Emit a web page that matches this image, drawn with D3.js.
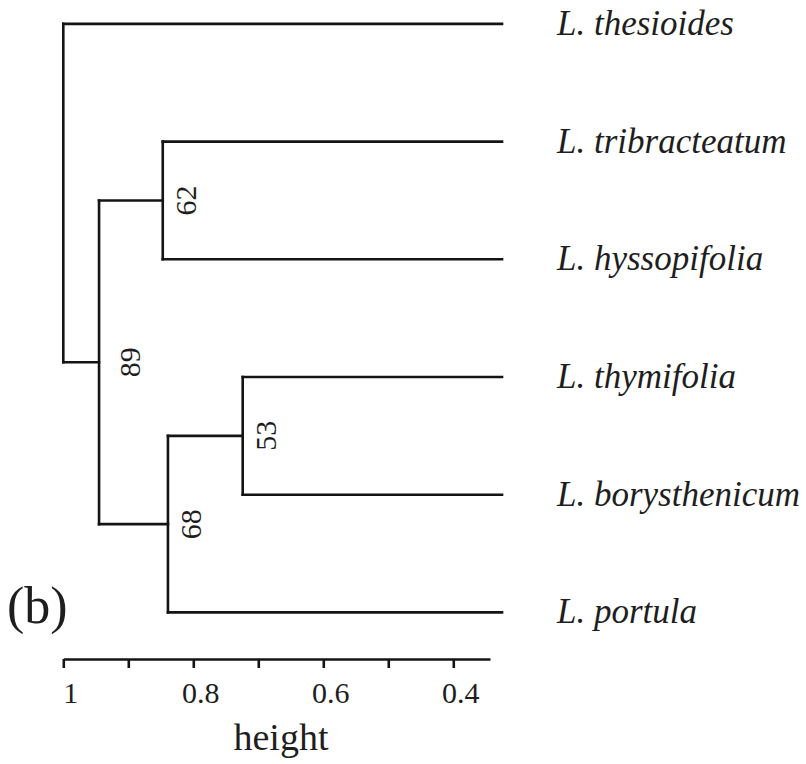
<!DOCTYPE html>
<html>
<head>
<meta charset="utf-8">
<script src="https://cdn.jsdelivr.net/npm/d3@7"></script>
<style>
  html, body { margin: 0; padding: 0; background: #fff; }
  svg { display: block; }
  svg text { font-family: "Liberation Serif", "DejaVu Serif", serif !important; fill: #1e1e1e; }
</style>
</head>
<body>
<svg id="chart" width="806" height="764"></svg>
<script>
// ---- data ----
const leafNames = ["L. thesioides", "L. tribracteatum", "L. hyssopifolia",
                   "L. thymifolia", "L. borysthenicum", "L. portula"];
const nodeIds       = ["root", "n89", "n62", "n68", "n53"];
const nodeHeights   = [1.0, 0.945, 0.847, 0.839, 0.724];
const nodeSupport   = [null, 89, 62, 68, 53];
const nodeChildren  = [["L. thesioides", "n89"], ["n62", "n68"],
                       ["L. tribracteatum", "L. hyssopifolia"],
                       ["n53", "L. portula"], ["L. thymifolia", "L. borysthenicum"]];
const leafHeight    = 0.325;           // leaves drawn to the visible edge of the plot
const axisTicks     = [1, 0.9, 0.8, 0.7, 0.6, 0.5, 0.4];
const axisLabels    = [1, 0.8, 0.6, 0.4];
const axisDomain    = [1, 0.3435];

const SERIF = '"Liberation Serif", "DejaVu Serif", serif';

// ---- build hierarchy ----
function build(id) {
  const i = nodeIds.indexOf(id);
  if (i < 0) return { name: id, height: leafHeight, support: null };
  return { name: id, height: nodeHeights[i], support: nodeSupport[i],
           children: nodeChildren[i].map(build) };
}
const root = d3.hierarchy(build("root"));

const svg = d3.select("#chart");
const x = d3.scaleLinear().domain(axisDomain).range([63.3, 490]);
const y = d3.scaleLinear().domain([0, leafNames.length - 1]).range([23.9, 612.4]);

// positions
root.eachAfter(n => {
  n.px = x(n.data.height);
  if (!n.children) n.py = y(leafNames.indexOf(n.data.name));
  else n.py = d3.mean(n.children, c => c.py);
});
const leafEndX = x(leafHeight);

const g = svg.append("g")
  .attr("fill", "none").attr("stroke", "#141414")
  .attr("stroke-width", 2.6).attr("stroke-linecap", "square");

root.descendants().filter(n => n.children).forEach(n => {
  const ys = n.children.map(c => c.py);
  g.append("line").attr("x1", n.px).attr("x2", n.px)
    .attr("y1", d3.min(ys)).attr("y2", d3.max(ys));
  n.children.forEach(c => {
    g.append("line").attr("x1", n.px).attr("x2", c.children ? c.px : leafEndX)
      .attr("y1", c.py).attr("y2", c.py);
  });
});

// leaf labels
svg.append("g").selectAll("text")
  .data(root.leaves()).join("text")
  .attr("x", 557).attr("y", d => d.py + 11)
  .style("font-family", SERIF)
  .attr("font-size", 35).style("font-style", "italic")
  .text(d => d.data.name);

// support labels (rotated)
const supportOffset = { 89: 41 };
svg.append("g").selectAll("text")
  .data(root.descendants().filter(n => n.data.support != null)).join("text")
  .attr("transform", d => `translate(${d.px + (supportOffset[d.data.support] || 33)},${d.py}) rotate(-90)`)
  .attr("text-anchor", "middle")
  .style("font-family", SERIF)
  .attr("font-size", 30)
  .text(d => d.data.support);

// axis
const axis = d3.axisBottom(x)
  .tickValues(axisTicks)
  .tickSize(9).tickSizeOuter(0)
  .tickFormat(d => axisLabels.some(v => Math.abs(v - d) < 1e-9) ? String(+d.toFixed(1)) : "");
const ax = svg.append("g").attr("transform", "translate(0,659)").call(axis)
  .attr("font-family", SERIF);
ax.select(".domain").attr("stroke", "#141414").attr("stroke-width", 2.6);
ax.selectAll(".tick line").attr("stroke", "#141414").attr("stroke-width", 2.6);
ax.selectAll(".tick text")
  .style("font-family", SERIF).attr("font-size", 30)
  .attr("fill", "#1e1e1e").attr("y", 44).attr("dy", 0).attr("dx", 7);

// axis title
svg.append("text").attr("x", 281).attr("y", 750)
  .style("font-family", SERIF)
  .attr("text-anchor", "middle").attr("font-size", 38).text("height");

// panel letter
svg.append("text").attr("x", 7).attr("y", 623)
  .style("font-family", SERIF)
  .attr("font-size", 52).text("(b)");
</script>
</body>
</html>
